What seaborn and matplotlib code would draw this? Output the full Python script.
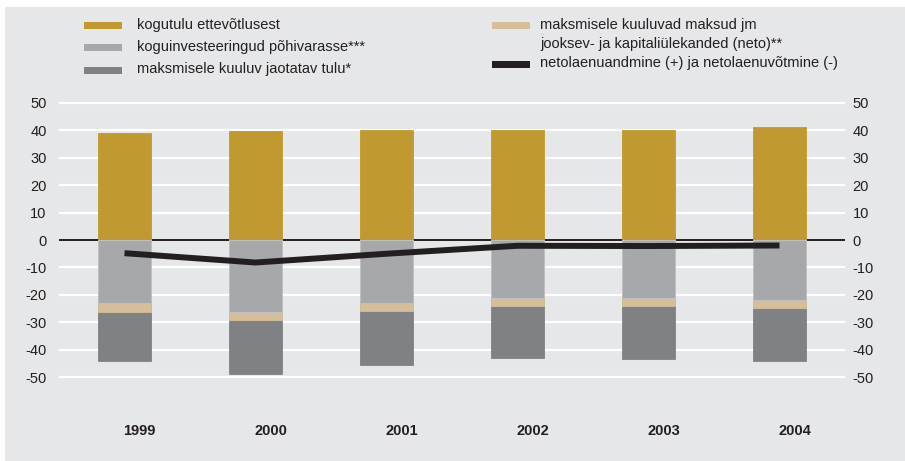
import numpy as np
import pandas as pd
import matplotlib
matplotlib.use("Agg")
import matplotlib.pyplot as plt
import matplotlib.transforms as mtransforms
from matplotlib.patches import Rectangle
import seaborn as sns

# ---- data ----
years = ["1999", "2000", "2001", "2002", "2003", "2004"]
kogutulu = [39.0, 39.7, 40.1, 40.1, 40.1, 41.2]          # kogutulu ettevõtlusest
investeeringud = [23.0, 26.3, 22.8, 21.1, 21.3, 21.9]    # koguinvesteeringud põhivarasse***
maksud = [3.1, 3.0, 3.0, 3.1, 2.9, 3.0]                  # maksud jm ülekanded (neto)**
jaotatav = [17.8, 19.4, 19.6, 18.6, 19.0, 19.0]          # maksmisele kuuluv jaotatav tulu*
netolaen = [-4.8, -8.2, -5.0, -2.1, -2.2, -2.0]          # netolaenuandmine/-võtmine
yticks = [50, 40, 30, 20, 10, 0, -10, -20, -30, -40, -50]

labels = {
    "gold": "kogutulu ettevõtlusest",
    "light": "koguinvesteeringud põhivarasse***",
    "dark": "maksmisele kuuluv jaotatav tulu*",
    "tan": "maksmisele kuuluvad maksud jm\njooksev- ja kapitaliülekanded (neto)**",
    "line": "netolaenuandmine (+) ja netolaenuvõtmine (-)",
}

C_GOLD = "#c09a30"
C_LIGHT = "#a7a8ab"
C_TAN = "#d4bf9a"
C_DARK = "#808184"
C_LINE = "#231f20"
C_BG = "#e6e7e8"
C_TXT = "#231f20"

sns.set_theme(style="white")
plt.rcParams["font.family"] = ["Liberation Sans", "DejaVu Sans"]

W, H = 905, 461
fig = plt.figure(figsize=(W / 100, H / 100), dpi=100, facecolor="white")
# grey panel
fig.add_artist(Rectangle((5 / W, 0), 1, (H - 7) / H, transform=fig.transFigure,
                         facecolor=C_BG, edgecolor="none", zorder=-10))

ax_l, ax_r = 59 / W, 845 / W
ax_b, ax_t = 1 - 380.05 / H, 1 - 99.95 / H
ax = fig.add_axes([ax_l, ax_b, ax_r - ax_l, ax_t - ax_b])
ax.set_facecolor(C_BG)

inv = np.array(investeeringud)
cum_tan = inv + np.array(maksud)
cum_dark = cum_tan + np.array(jaotatav)

df = pd.DataFrame({
    "year": years,
    "gold": kogutulu,
    "dark": -cum_dark,
    "tan": -cum_tan,
    "light": -inv,
})

bw = 0.405
for col, c in [("gold", C_GOLD), ("dark", C_DARK), ("tan", C_TAN), ("light", C_LIGHT)]:
    sns.barplot(data=df, x="year", y=col, color=c, width=bw, errorbar=None,
                ax=ax, saturation=1, zorder=3,
                edgecolor=("#c2c3c5" if col == "light" else c), linewidth=0.6)

sns.lineplot(x=np.arange(len(years)), y=netolaen, ax=ax, color=C_LINE,
             linewidth=4.3, zorder=5, sort=False, solid_capstyle="butt")

ax.set_xlim(-0.5, len(years) - 0.5)
ax.set_ylim(-51, 51)
ax.set_yticks(yticks)
for v in yticks:
    if v == 0:
        ax.axhline(v, color=C_LINE, linewidth=1.4, zorder=2)
    else:
        ax.axhline(v, color="white", linewidth=1.6, zorder=1)

for s in ax.spines.values():
    s.set_visible(False)
ax.set_xlabel("")
ax.set_ylabel("")
ax.tick_params(axis="y", length=0, pad=9, labelsize=10.5, labelcolor=C_TXT,
               left=True, right=True, labelleft=True, labelright=True)
ax.set_yticklabels([str(v) for v in yticks])
shift_r = mtransforms.ScaledTranslation(-5 / 100, 0, fig.dpi_scale_trans)
for t in ax.yaxis.get_major_ticks():
    t.label2.set_visible(True)
    t.label2.set_transform(t.label2.get_transform() + shift_r)

ax.set_xticks(range(len(years)))
ax.set_xticklabels(years, fontweight="bold", fontsize=10.5, color=C_TXT)
ax.tick_params(axis="x", length=0, pad=32)
offset = mtransforms.ScaledTranslation(15 / 100, 0, fig.dpi_scale_trans)
for lab in ax.get_xticklabels():
    lab.set_transform(lab.get_transform() + offset)

# ---- legend (manual) ----
def legend_patch(x0, x1, yc, h, color):
    fig.add_artist(Rectangle((x0 / W, 1 - (yc + h / 2) / H), (x1 - x0) / W, h / H,
                             transform=fig.transFigure, facecolor=color,
                             edgecolor="none"))

def legend_text(x, yc, s):
    fig.text(x / W, 1 - yc / H, s, ha="left", va="center", fontsize=10.5,
             color=C_TXT)

legend_patch(84, 122, 26, 7, C_GOLD)
legend_text(137, 25, labels["gold"])
legend_patch(84, 122, 48, 7, C_LIGHT)
legend_text(137, 47.5, labels["light"])
legend_patch(84, 122, 70, 7, C_DARK)
legend_text(137, 69.5, labels["dark"])

legend_patch(492, 530, 26, 7, C_TAN)
l1, l2 = labels["tan"].split("\n")
legend_text(540, 25, l1)
legend_text(540, 44, l2)
legend_patch(492, 530, 64, 7, C_LINE)
legend_text(540, 63.5, labels["line"])

fig.savefig("out.png", dpi=100, facecolor=fig.get_facecolor())
